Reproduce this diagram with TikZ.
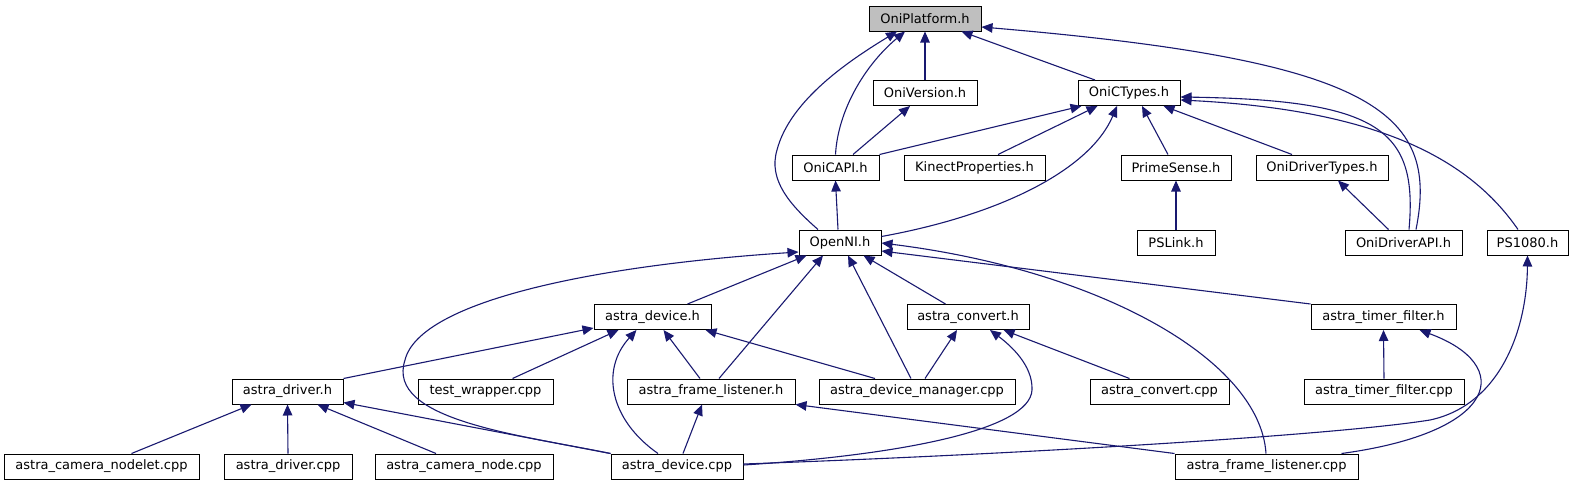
\documentclass[tikz,border=0pt]{standalone}
\usepackage{fontspec}
\setmainfont{DejaVu Sans}
\usetikzlibrary{arrows.meta}
\definecolor{edgeblue}{HTML}{191970}
\definecolor{rootgray}{HTML}{BFBFBF}
\begin{document}
\begin{tikzpicture}[x=1pt,y=-1pt,
  box/.style={draw=black, line width=1pt, fill=white, inner sep=0pt, minimum height=25pt,
              font=\fontsize{13}{15}\selectfont},
  edge/.style={draw=edgeblue, line width=1.1pt, -{Triangle[length=11pt,width=9.5pt]}}]
\useasboundingbox[fill=white] (0,0) rectangle (1575,485);
% row 0
\node[box, fill=rootgray, minimum width=112pt] (oniplat) at (925,18.5) {OniPlatform.h};
% row 1
\node[box, minimum width=104pt] (oniver) at (925,93) {OniVersion.h};
\node[box, minimum width=102pt] (onictypes) at (1129,93) {OniCTypes.h};
% row 2
\node[box, minimum width=87pt] (onicapi) at (835.5,167.5) {OniCAPI.h};
\node[box, minimum width=141pt] (kinect) at (974.5,167.5) {KinectProperties.h};
\node[box, minimum width=110pt] (primesense) at (1176,167.5) {PrimeSense.h};
\node[box, minimum width=132pt] (onidrvtypes) at (1322,167.5) {OniDriverTypes.h};
% row 3
\node[box, minimum width=82pt] (openni) at (840,242.5) {OpenNI.h};
\node[box, minimum width=78pt] (pslink) at (1176,242.5) {PSLink.h};
\node[box, minimum width=117pt] (onidrvapi) at (1403.5,242.5) {OniDriverAPI.h};
\node[box, minimum width=81pt] (ps1080) at (1527.5,242.5) {PS1080.h};
% row 4
\node[box, minimum width=117pt] (astradevh) at (652.5,317) {astra\_device.h};
\node[box, minimum width=122pt] (astraconvh) at (968,317) {astra\_convert.h};
\node[box, minimum width=145pt] (astratimerh) at (1383.5,317) {astra\_timer\_filter.h};
% row 5
\node[box, minimum width=111pt] (astradrvh) at (287.5,391.5) {astra\_driver.h};
\node[box, minimum width=135pt] (testwrap) at (485.5,391.5) {test\_wrapper.cpp};
\node[box, minimum width=168pt] (astraflh) at (711,391.5) {astra\_frame\_listener.h};
\node[box, minimum width=196pt] (astradevmgr) at (917,391.5) {astra\_device\_manager.cpp};
\node[box, minimum width=139pt] (astraconvcpp) at (1159.5,391.5) {astra\_convert.cpp};
\node[box, minimum width=160pt] (astratimercpp) at (1384,391.5) {astra\_timer\_filter.cpp};
% row 6
\node[box, minimum width=195pt] (camnodelet) at (101.5,466.5) {astra\_camera\_nodelet.cpp};
\node[box, minimum width=128pt] (astradrvcpp) at (288,466.5) {astra\_driver.cpp};
\node[box, minimum width=178pt] (camnode) at (464,466.5) {astra\_camera\_node.cpp};
\node[box, minimum width=132pt] (astradevcpp) at (677,466.5) {astra\_device.cpp};
\node[box, minimum width=183pt] (astraflcpp) at (1266.5,466.5) {astra\_frame\_listener.cpp};

% edges to OniPlatform.h
\draw[edge] (oniver.north) -- (oniplat.south);
\draw[edge] ([xshift=-34pt]onictypes.north) -- ([xshift=-20pt]oniplat.south east);
\draw[edge] (onicapi.north) .. controls (838,110) and (865,65) .. ([xshift=-20pt]oniplat.south);
\draw[edge] ([xshift=-22pt]openni.north) .. controls (790,205) and (768,180) .. (777,150)
  .. controls (790,100) and (850,60) .. ([xshift=-28pt]oniplat.south);
\draw[edge] ([xshift=12.5pt]onidrvapi.north) .. controls (1440,110) and (1370,60) .. ([yshift=-8.5pt]oniplat.east);
% edges to OniVersion.h
\draw[edge] ([xshift=17.5pt]onicapi.north) -- ([xshift=-15pt]oniver.south);
% edges to OniCTypes.h
\draw[edge] (onicapi.north east) -- ([xshift=4pt]onictypes.south west);
\draw[edge] ([xshift=23.5pt]kinect.north) -- ([xshift=20pt]onictypes.south west);
\draw[edge] ([yshift=-7pt]openni.north east) .. controls (1000,215) and (1090,170) .. ([xshift=-12pt]onictypes.south);
\draw[edge] ([xshift=-8pt]primesense.north) -- ([xshift=13pt]onictypes.south);
\draw[edge] ([xshift=-30pt]onidrvtypes.north) -- ([xshift=-17pt]onictypes.south east);
\draw[edge] ([xshift=5.5pt]onidrvapi.north) .. controls (1418,130) and (1380,100) .. ([yshift=-4pt]onictypes.east);
\draw[edge] ([xshift=-9.5pt]ps1080.north) .. controls (1470,160) and (1380,110) .. ([yshift=-7pt]onictypes.east);
% edges to OniCAPI.h
\draw[edge] ([xshift=-2pt]openni.north) -- (onicapi.south);
% PrimeSense, OniDriverTypes
\draw[edge] (pslink.north) -- (primesense.south);
\draw[edge] ([xshift=-15pt]onidrvapi.north) -- ([xshift=16pt]onidrvtypes.south);
% PS1080.h
\draw[edge] ([yshift=2.5pt]astradevcpp.east) .. controls (1000,455) and (1330,436) .. (1430,420)
  .. controls (1500,405) and (1527,330) .. (ps1080.south);
% edges to OpenNI.h
\draw[edge] ([xshift=-24pt]astradevh.north east) -- ([xshift=8pt]openni.south west);
\draw[edge] (astradevcpp.north west) .. controls (520,435) and (385,420) .. (405,360)
  .. controls (420,300) and (600,265) .. ([yshift=-9.5pt]openni.west);
\draw[edge] ([xshift=8pt]astraflh.north) -- ([xshift=-17pt]openni.south);
\draw[edge] ([xshift=-6pt]astradevmgr.north) -- ([xshift=8pt]openni.south);
\draw[edge] ([xshift=39pt]astraconvh.north west) -- ([xshift=-18pt]openni.south east);
\draw[edge] ([xshift=-0.5pt]astraflcpp.north) .. controls (1260,360) and (1100,270) .. ([yshift=-0.5pt]openni.east);
\draw[edge] (astratimerh.north west) -- ([yshift=-8.5pt]openni.east);
% edges to astra_device.h
\draw[edge] (astradrvh.north east) -- ([yshift=2pt]astradevh.south west);
\draw[edge] ([xshift=27pt]testwrap.north) -- ([xshift=25pt]astradevh.south west);
\draw[edge] ([xshift=-19pt]astradevcpp.north) .. controls (610,420) and (600,370) .. ([xshift=-16pt]astradevh.south);
\draw[edge] ([xshift=-11pt]astraflh.north) -- ([xshift=11pt]astradevh.south);
\draw[edge] ([xshift=-42pt]astradevmgr.north) -- ([xshift=-6pt]astradevh.south east);
% edges to astra_convert.h
\draw[edge] ([xshift=8pt]astradevmgr.north) -- ([xshift=-11pt]astraconvh.south);
\draw[edge] ([yshift=1.5pt]astradevcpp.east) .. controls (900,455) and (1030,430) .. (1032,390)
  .. controls (1033,365) and (1010,345) .. ([xshift=22pt]astraconvh.south);
\draw[edge] ([xshift=-30pt]astraconvcpp.north) -- ([xshift=-26pt]astraconvh.south east);
% edges to astra_timer_filter.h
\draw[edge] (astratimercpp.north) -- (astratimerh.south);
\draw[edge] ([xshift=75pt]astraflcpp.north) .. controls (1500,432) and (1515,365) .. ([xshift=36pt]astratimerh.south);
% edges to astra_driver.h
\draw[edge] ([xshift=30pt]camnodelet.north) -- ([xshift=20pt]astradrvh.south west);
\draw[edge] (astradrvcpp.north) -- (astradrvh.south);
\draw[edge] ([xshift=-28pt]camnode.north) -- ([xshift=30pt]astradrvh.south);
\draw[edge] (astradevcpp.north west) -- ([yshift=2pt]astradrvh.south east);
% edges to astra_frame_listener.h
\draw[edge] ([xshift=6pt]astradevcpp.north) -- ([xshift=-9pt]astraflh.south);
\draw[edge] (astraflcpp.north west) -- (astraflh.south east);
\end{tikzpicture}
\end{document}
